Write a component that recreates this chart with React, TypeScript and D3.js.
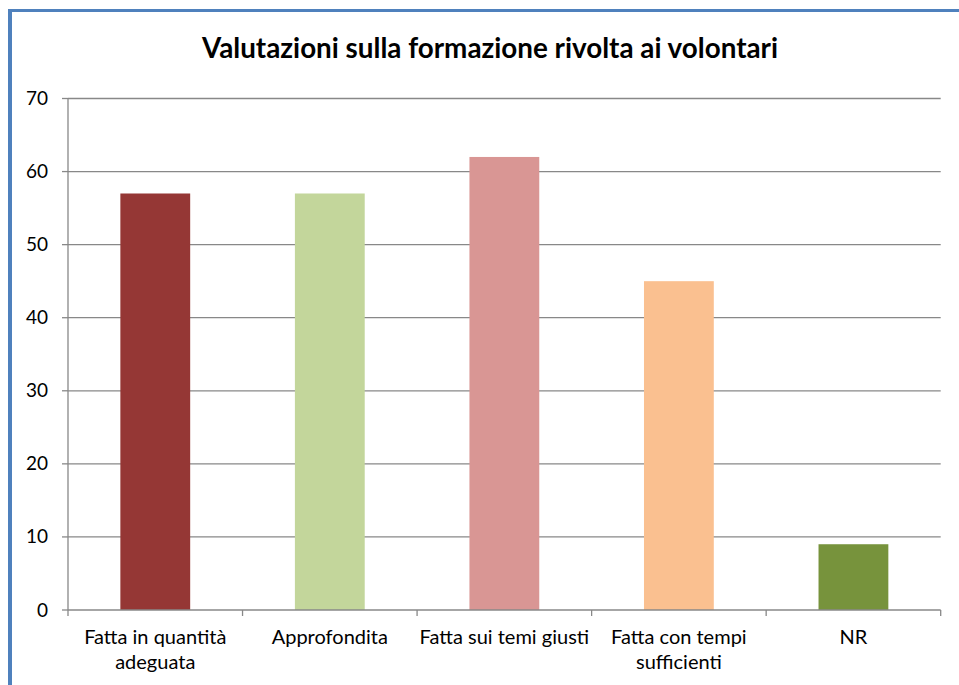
import React from "react";
import * as d3 from "d3";

const categories = [
  ["Fatta in quantità", "adeguata"],
  ["Approfondita"],
  ["Fatta sui temi giusti"],
  ["Fatta con tempi", "sufficienti"],
  ["NR"],
];
const values = [57, 57, 62, 45, 9];
const colors = ["#953735", "#c3d69b", "#d99694", "#fac090", "#77933c"];
const yTicks = [0, 10, 20, 30, 40, 50, 60, 70];
const title = "Valutazioni sulla formazione rivolta ai volontari";

export default function App() {
  const W = 959, H = 685;
  const left = 68, right = 940.7, top = 98.5, bottom = 610;
  const x = d3.scaleBand<number>().domain(d3.range(values.length)).range([left, right]).paddingInner(0.6).paddingOuter(0.3);
  const xb = d3.scaleBand<number>().domain(d3.range(values.length)).range([left, right]);
  const y = d3.scaleLinear().domain([0, 70]).range([bottom, top]);
  const font = "Lato, 'Open Sans', sans-serif";
  return (
    <svg width={W} height={H} style={{ position: "absolute", left: 0, top: 0, background: "#fff" }} fontFamily={font}>
      <rect x={0} y={0} width={W} height={H} fill="#fff" />
      <line x1={8} x2={W} y1={10.5} y2={10.5} stroke="#4f81bd" strokeWidth={3} />
      <line x1={10} x2={10} y1={9} y2={H} stroke="#4f81bd" strokeWidth={4} />
      <text x={490} y={58} textAnchor="middle" fontSize={27.8} fontWeight="bold" fill="#000">{title}</text>
      {yTicks.map((t) => (
        <g key={t}>
          {t > 0 && <line x1={left} x2={right} y1={y(t)} y2={y(t)} stroke="#888" strokeWidth={1.3} />}
          <line x1={left - 6} x2={left} y1={y(t)} y2={y(t)} stroke="#888" strokeWidth={1.3} />
          <text x={48} y={y(t) + 6.5} textAnchor="end" fontSize={19} fill="#000">{t}</text>
        </g>
      ))}
      {values.map((v, i) => (
        <rect key={i} x={x(i)} y={y(v)} width={x.bandwidth()} height={y(0) - y(v)} fill={colors[i]} />
      ))}
      <line x1={left} x2={left} y1={top} y2={bottom} stroke="#888" strokeWidth={1.3} />
      <line x1={left} x2={right} y1={bottom} y2={bottom} stroke="#888" strokeWidth={1.3} />
      {d3.range(values.length + 1).map((i) => {
        const px = i < values.length ? (xb(i) as number) : right;
        return <line key={i} x1={px} x2={px} y1={bottom} y2={bottom + 6} stroke="#888" strokeWidth={1.3} />;
      })}
      {categories.map((lines, i) => (
        <text key={i} x={(xb(i) as number) + xb.bandwidth() / 2} textAnchor="middle" fontSize={20} fill="#000">
          {lines.map((l, j) => (
            <tspan key={j} x={(xb(i) as number) + xb.bandwidth() / 2} y={644 + j * 24.5}>{l}</tspan>
          ))}
        </text>
      ))}
    </svg>
  );
}
